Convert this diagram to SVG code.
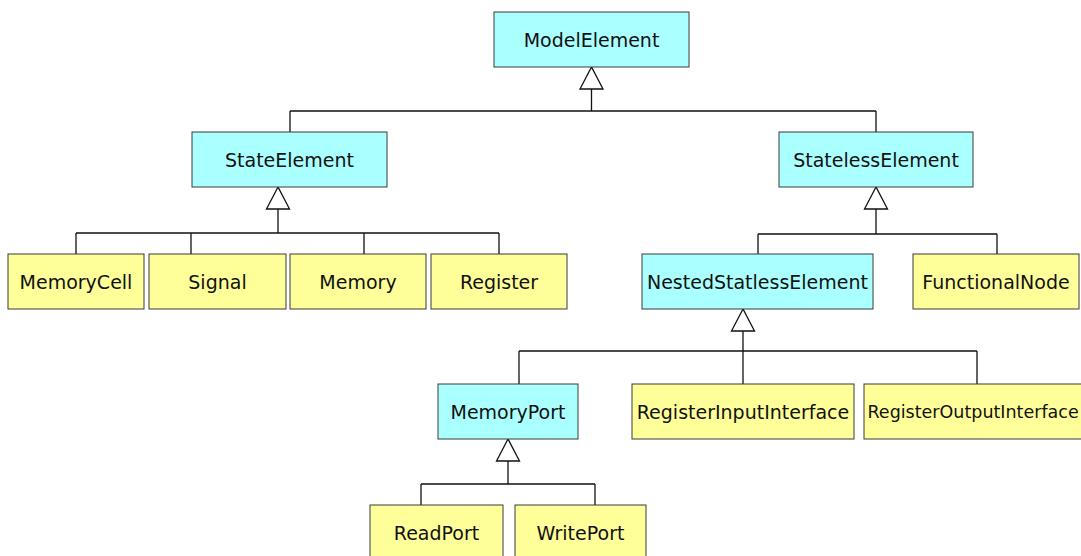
<svg xmlns="http://www.w3.org/2000/svg" width="1081" height="556" viewBox="0 0 1081 556">
  <style>
    .box { stroke: #3a3a3a; stroke-width: 1; }
    .abstract { fill: #aaffff; }
    .concrete { fill: #ffff99; }
    .label { font-family: "DejaVu Sans", "Noto Sans", sans-serif; font-size: 19px; fill: #111; text-anchor: middle; }
    .wire { fill: none; stroke: #111; stroke-width: 1.3; }
    .head { fill: #fff; stroke: #111; stroke-width: 1.3; stroke-linejoin: miter; }
  </style>
  <rect width="1081" height="556" fill="#fff"/>

  <!-- inheritance connectors -->
  <g id="connectors">
    <!-- ModelElement -->
    <path class="wire" d="M591.5 89V111M290 111H876M290 111V132M876 111V132"/>
    <polygon class="head" points="591.5,67 580,89 603,89"/>
    <!-- StateElement -->
    <path class="wire" d="M278 209V233M76 233H499M76 233V254M191 233V254M364 233V254M499 233V254"/>
    <polygon class="head" points="278,187 266.5,209 289.5,209"/>
    <!-- StatelessElement -->
    <path class="wire" d="M876 209V234M758 234H997M758 234V254M997 234V254"/>
    <polygon class="head" points="876,187 864.5,209 887.5,209"/>
    <!-- NestedStatlessElement -->
    <path class="wire" d="M743 331V384M519 351H977M519 351V384M977 351V384"/>
    <polygon class="head" points="743,309 731.5,331 754.5,331"/>
    <!-- MemoryPort -->
    <path class="wire" d="M508 461V484M421 484H595M421 484V505M595 484V505"/>
    <polygon class="head" points="508,439 496.5,461 519.5,461"/>
  </g>

  <g id="ModelElement">
    <rect class="box abstract" x="494" y="12" width="195" height="55"/>
    <text class="label" x="591.5" y="46.5">ModelElement</text>
  </g>
  <g id="StateElement">
    <rect class="box abstract" x="192" y="132" width="195" height="55"/>
    <text class="label" x="289.5" y="166.5">StateElement</text>
  </g>
  <g id="StatelessElement">
    <rect class="box abstract" x="779" y="132" width="194" height="55"/>
    <text class="label" x="876" y="166.5">StatelessElement</text>
  </g>
  <g id="MemoryCell">
    <rect class="box concrete" x="8" y="254" width="136" height="55"/>
    <text class="label" x="76" y="288.5">MemoryCell</text>
  </g>
  <g id="Signal">
    <rect class="box concrete" x="149" y="254" width="137" height="55"/>
    <text class="label" x="217.5" y="288.5">Signal</text>
  </g>
  <g id="Memory">
    <rect class="box concrete" x="290" y="254" width="136" height="55"/>
    <text class="label" x="358" y="288.5">Memory</text>
  </g>
  <g id="Register">
    <rect class="box concrete" x="431" y="254" width="136" height="55"/>
    <text class="label" x="499" y="288.5">Register</text>
  </g>
  <g id="NestedStatlessElement">
    <rect class="box abstract" x="642" y="254" width="231" height="55"/>
    <text class="label" x="757.5" y="288.5">NestedStatlessElement</text>
  </g>
  <g id="FunctionalNode">
    <rect class="box concrete" x="913" y="254" width="166" height="55"/>
    <text class="label" x="996" y="288.5">FunctionalNode</text>
  </g>
  <g id="MemoryPort">
    <rect class="box abstract" x="438" y="384" width="140" height="55"/>
    <text class="label" x="508" y="418.5">MemoryPort</text>
  </g>
  <g id="RegisterInputInterface">
    <rect class="box concrete" x="632" y="384" width="222" height="55"/>
    <text class="label" x="743" y="418.5">RegisterInputInterface</text>
  </g>
  <g id="RegisterOutputInterface">
    <rect class="box concrete" x="864" y="384" width="236" height="55"/>
    <text class="label" x="867.5" y="418" style="text-anchor: start; font-size: 17.5px">RegisterOutputInterface</text>
  </g>
  <g id="ReadPort">
    <rect class="box concrete" x="370" y="505" width="133" height="60"/>
    <text class="label" x="436.5" y="539.5">ReadPort</text>
  </g>
  <g id="WritePort">
    <rect class="box concrete" x="515" y="505" width="131" height="60"/>
    <text class="label" x="580.5" y="539.5">WritePort</text>
  </g>
</svg>
